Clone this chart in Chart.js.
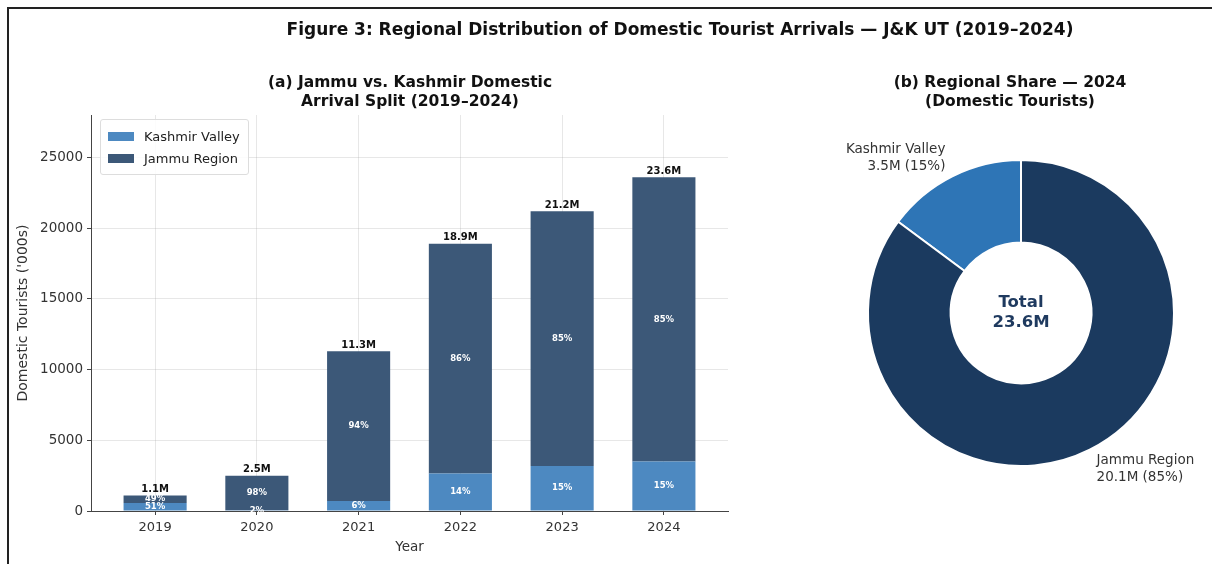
<!DOCTYPE html>
<html>
<head>
<meta charset="utf-8">
<title>Regional Distribution of Domestic Tourist Arrivals</title>
<script src="https://cdn.jsdelivr.net/npm/chart.js@4.4.1/dist/chart.umd.min.js"></script>
<style>
  body { margin: 0; background: #fff; font-family: "DejaVu Sans", sans-serif; }
  #wrap { position: relative; width: 1212px; height: 564px; overflow: hidden; background: #fff; }
  #frame { position: absolute; left: 7px; top: 7px; right: -4px; bottom: -4px; border-left: 2px solid #222; border-top: 2px solid #222; }
  .title { position: absolute; font-weight: bold; color: #111; text-align: center; white-space: nowrap; }
  #mainTitle { left: 230px; width: 900px; top: 19px; font-size: 17px; }
  #titleA { left: 210px; width: 400px; top: 73px; font-size: 15.5px; line-height: 19px; }
  #titleB { left: 810px; width: 400px; top: 73px; font-size: 15.5px; line-height: 19px; }
  #barCanvas { position: absolute; left: 0; top: 0; }
  #pieCanvas { position: absolute; left: 760px; top: 0; }
  #legend { position: absolute; left: 100px; top: 119px; padding: 5px 8px 5px 7px; border: 1px solid #ddd; border-radius: 3px; background: rgba(255,255,255,0.85); font-size: 13px; color: #222; }
  #legend div { display: flex; align-items: center; height: 22px; }
  #legend span.sw { display: inline-block; width: 26px; height: 9px; margin-right: 10px; }
</style>
</head>
<body>
<div id="wrap">
  <div id="frame"></div>
  <canvas id="barCanvas" width="760" height="564"></canvas>
  <canvas id="pieCanvas" width="452" height="564"></canvas>
  <div id="mainTitle" class="title">Figure 3: Regional Distribution of Domestic Tourist Arrivals — J&amp;K UT (2019–2024)</div>
  <div id="titleA" class="title">(a) Jammu vs. Kashmir Domestic<br>Arrival Split (2019–2024)</div>
  <div id="titleB" class="title">(b) Regional Share — 2024<br>(Domestic Tourists)</div>
  <div id="legend"></div>
</div>
<script>
// domestic arrivals, thousands
const years = ["2019", "2020", "2021", "2022", "2023", "2024"];
const kashmirVals = [560, 50, 700, 2650, 3180, 3500];
const jammuVals = [540, 2450, 10600, 16250, 18020, 20100];
const yTicks = [0, 5000, 10000, 15000, 20000, 25000];

// 2024 share for the donut
const shareLabels = ["Kashmir Valley", "Jammu Region"];
const shareVals = [3500, 20100];

const barColors = ["#4d89c1", "#3c5878"];
const pieColors = ["#2e75b6", "#1b3a5f"];
const FONT = "DejaVu Sans";

Chart.defaults.font.family = FONT;
Chart.defaults.color = "#333";

function fmtM(v) {
    return (v / 1000).toFixed(1) + "M";
}

// totals above each bar and share labels inside each segment
const barLabels = {
    id: "barLabels",
    afterDatasetsDraw(chart) {
        const ctx = chart.ctx;
        const metas = [chart.getDatasetMeta(0), chart.getDatasetMeta(1)];
        const series = [kashmirVals, jammuVals];
        ctx.save();
        ctx.textAlign = "center";
        years.forEach((yr, i) => {
            const total = kashmirVals[i] + jammuVals[i];
            ctx.font = "bold 8.5px " + FONT;
            ctx.fillStyle = "#fff";
            ctx.textBaseline = "middle";
            metas.forEach((m, d) => {
                const bar = m.data[i];
                const pct = Math.round(series[d][i] / total * 100);
                ctx.fillText(pct + "%", bar.x, (bar.y + bar.base) / 2);
            });
            const top = metas[1].data[i];
            ctx.font = "bold 10px " + FONT;
            ctx.fillStyle = "#111";
            ctx.textBaseline = "bottom";
            ctx.fillText(fmtM(total), top.x, top.y - 1);
        });
        ctx.restore();
    }
};

const gridColor = "rgba(170,170,170,0.28)";

const barChart = new Chart(document.getElementById("barCanvas"), {
    type: "bar",
    data: {
        datasets: [
            {
                label: shareLabels[0],
                data: kashmirVals.map((v, i) => ({ x: i, y: v })),
                backgroundColor: barColors[0]
            },
            {
                label: shareLabels[1],
                data: jammuVals.map((v, i) => ({ x: i, y: v })),
                backgroundColor: barColors[1]
            }
        ]
    },
    options: {
        responsive: false,
        animation: false,
        barPercentage: 0.62,
        categoryPercentage: 1,
        layout: { padding: { top: 115, right: 32, left: 0, bottom: 0 } },
        plugins: { legend: { display: false }, tooltip: { enabled: false } },
        scales: {
            x: {
                type: "linear",
                stacked: true,
                offset: false,
                min: -0.63,
                max: 5.63,
                z: 1,
                afterBuildTicks(scale) {
                    scale.ticks = years.map((y, i) => ({ value: i }));
                },
                afterFit(scale) { scale.height = 53; },
                ticks: {
                    callback: (v) => years[v],
                    font: { size: 13 },
                    color: "#333",
                    padding: 5,
                    maxRotation: 0
                },
                grid: { offset: false, color: gridColor, tickColor: "#444", tickLength: 4 },
                border: { display: true, color: "#444", width: 1 },
                title: { display: true, text: "Year", font: { size: 13.5 }, color: "#333", padding: { top: 4, bottom: 8 } }
            },
            y: {
                stacked: true,
                min: 0,
                max: 28000,
                z: 1,
                afterBuildTicks(scale) {
                    scale.ticks = yTicks.map(v => ({ value: v }));
                },
                afterFit(scale) { scale.width = 91; },
                ticks: { callback: (v) => String(v), font: { size: 13.5 }, color: "#333", padding: 4 },
                grid: { color: gridColor, tickColor: "#444", tickLength: 4 },
                border: { display: true, color: "#444", width: 1 },
                title: { display: true, text: "Domestic Tourists ('000s)", font: { size: 14 }, color: "#333", padding: { top: 15, bottom: 4 } }
            }
        }
    },
    plugins: [barLabels]
});

// legend built from the bar datasets
const legendEl = document.getElementById("legend");
barChart.data.datasets.forEach(ds => {
    const row = document.createElement("div");
    row.innerHTML = `<span class="sw" style="background:${ds.backgroundColor}"></span>${ds.label}`;
    legendEl.appendChild(row);
});

// outside labels plus the total in the hole
const donutLabels = {
    id: "donutLabels",
    afterDatasetsDraw(chart) {
        const ctx = chart.ctx;
        const total = shareVals.reduce((a, b) => a + b, 0);
        const arcs = chart.getDatasetMeta(0).data;
        ctx.save();
        ctx.font = "13.5px " + FONT;
        ctx.fillStyle = "#333";
        ctx.textBaseline = "middle";
        arcs.forEach((arc, i) => {
            const mid = (arc.startAngle + arc.endAngle) / 2;
            const r = arc.outerRadius;
            const lx = arc.x + Math.cos(mid) * r * 1.1;
            const ly = arc.y + Math.sin(mid) * r * 1.14;
            ctx.textAlign = Math.cos(mid) < 0 ? "right" : "left";
            const pct = Math.round(shareVals[i] / total * 100);
            ctx.fillText(shareLabels[i], lx, ly - 8);
            ctx.fillText(`${fmtM(shareVals[i])} (${pct}%)`, lx, ly + 9);
        });
        const c = arcs[0];
        ctx.textAlign = "center";
        ctx.font = "bold 16.5px " + FONT;
        ctx.fillStyle = "#1f3a5f";
        ctx.fillText("Total", c.x, c.y - 10);
        ctx.fillText(fmtM(total), c.x, c.y + 10);
        ctx.restore();
    }
};

const shareTotal = shareVals.reduce((a, b) => a + b, 0);

new Chart(document.getElementById("pieCanvas"), {
    type: "doughnut",
    data: {
        labels: shareLabels,
        datasets: [{
            data: shareVals,
            backgroundColor: pieColors,
            borderColor: "#fff",
            borderWidth: 2
        }]
    },
    options: {
        responsive: false,
        animation: false,
        cutout: "46%",
        rotation: -360 * shareVals[0] / shareTotal,
        layout: { padding: { top: 159, bottom: 97, left: 107, right: 37 } },
        plugins: { legend: { display: false }, tooltip: { enabled: false } }
    },
    plugins: [donutLabels]
});
</script>
</body>
</html>
